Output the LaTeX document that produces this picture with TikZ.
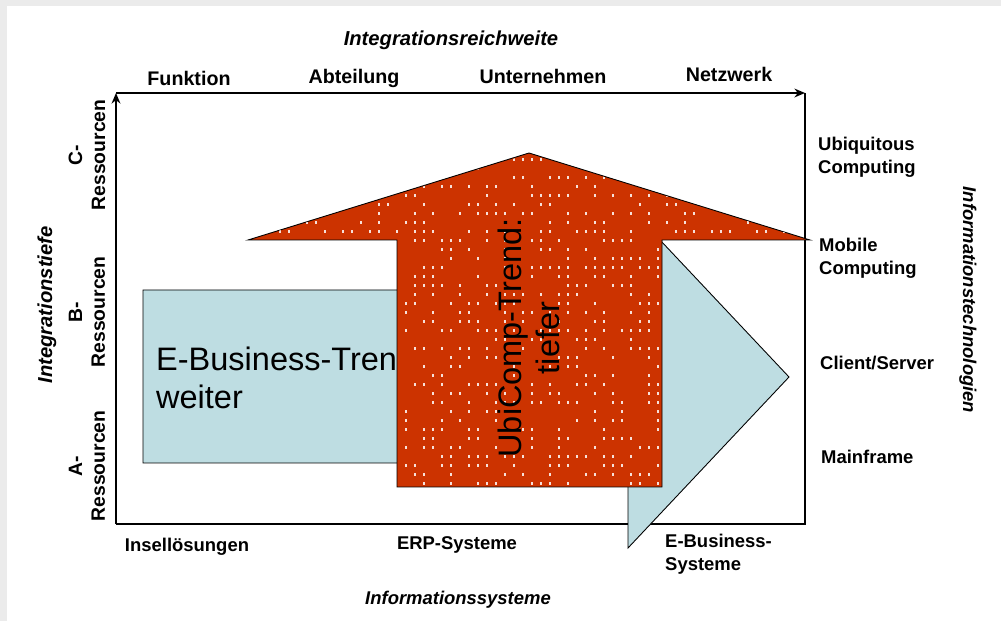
\documentclass[tikz,border=0pt]{standalone}
\usepackage{fontspec}
\setmainfont{Liberation Sans}
\usetikzlibrary{arrows.meta}
\definecolor{trendblue}{RGB}{190,221,226}
\definecolor{trendred}{RGB}{204,51,0}
\definecolor{pagegray}{RGB}{235,235,235}

\begin{document}
\begin{tikzpicture}[x=0.02cm,y=-0.02cm,
  axislab/.style={font=\fontsize{11.2}{13}\selectfont\bfseries},
  axistitle/.style={font=\fontsize{11.5}{13}\selectfont\bfseries\itshape},
  sidelab/.style={font=\fontsize{10.5}{13}\selectfont\bfseries, align=left, anchor=west},
  reslab/.style={font=\fontsize{11}{13}\selectfont\bfseries, align=center, rotate=90},
  trendtext/.style={font=\fontsize{18.5}{22}\selectfont}]
  \useasboundingbox (0,0) rectangle (1001,621);
  \fill[pagegray] (0,0) rectangle (1001,621);
  \fill[white] (7,6) rectangle (1001,621);

  % frame of the matrix
  \coordinate (bl) at (116,524);
  \coordinate (tl) at (116,93);
  \coordinate (tr) at (805,93);
  \coordinate (br) at (805,524);
  \draw[line width=1.1pt, -{Stealth[length=6pt,width=5pt]}] (bl) -- (tl);
  \draw[line width=1.1pt, -{Stealth[length=6pt,width=5pt]}] (tl) -- (tr);
  \draw[line width=1.1pt] (tr) -- (br) -- (bl);

  % top axis
  \node[axistitle] (reichweite) at (451,40) {Integrationsreichweite};
  \node[axislab] (funktion) at (189,78) {Funktion};
  \node[axislab] (abteilung) at (354,78) {Abteilung};
  \node[axislab] (unternehmen) at (543,76) {Unternehmen};
  \node[axislab] (netzwerk) at (729,74) {Netzwerk};

  % left axis
  \node[axistitle, rotate=90] (tiefe) at (47,305) {Integrationstiefe};
  \node[reslab] (cres) at (87,155) {C-\\Ressourcen};
  \node[reslab] (bres) at (87,312) {B-\\Ressourcen};
  \node[reslab] (ares) at (87,466) {A-\\Ressourcen};

  % right axis
  \node[sidelab] (ubi) at (812,157) {Ubiquitous\\Computing};
  \node[sidelab] (mobile) at (813,258) {Mobile\\Computing};
  \node[sidelab] (client) at (814,363) {Client/Server};
  \node[sidelab] (mainframe) at (815,457) {Mainframe};
  \node[font=\fontsize{10.5}{12.5}\selectfont\bfseries\itshape, rotate=-90] (technologien) at (968,300) {Informationstechnologien};

  % bottom axis
  \node[sidelab, anchor=center] (insel) at (187,547) {Insellösungen};
  \node[sidelab, anchor=center] (erp) at (457,545) {ERP-Systeme};
  \node[sidelab] (ebsys) at (659,554) {E-Business-\\Systeme};
  \node[font=\fontsize{10.5}{12.5}\selectfont\bfseries\itshape] (systeme) at (458,600) {Informationssysteme};

  % E-Business arrow
  \draw[fill=trendblue, line width=0.5pt] (143,290) -- (628,290) -- (628,206) -- (789,377)
    -- (628,548) -- (628,463) -- (143,463) -- cycle;
  \node[trendtext, anchor=west, align=left] (ebiz) at (150,378) {E-Business-Trend:\\weiter};

  % UbiComp arrow, with the speckles of the scan
  \draw[fill=trendred, line width=0.5pt] (397,487) -- (397,240) -- (248,240) -- (529,153)
    -- (810,240) -- (662,240) -- (662,487) -- cycle;
  \begin{scope}
    \clip (398,486) -- (398,239) -- (252,239) -- (529,154) -- (806,239) -- (661,239) -- (661,486) -- cycle;
    \pgfmathsetseed{7}
    \foreach \sx in {252,261,...,810}
      \foreach \sy in {158,167,...,486}{
        \pgfmathsetmacro{\keep}{rnd}
        \ifdim\keep pt<0.42pt
          \fill[white!85!trendred] (\sx,\sy) rectangle ++(2,3);
        \fi
      }
  \end{scope}
  \node[trendtext, rotate=90, align=center] (ubicomp) at (529,338) {UbiComp-Trend:\\tiefer};
\end{tikzpicture}
\end{document}
